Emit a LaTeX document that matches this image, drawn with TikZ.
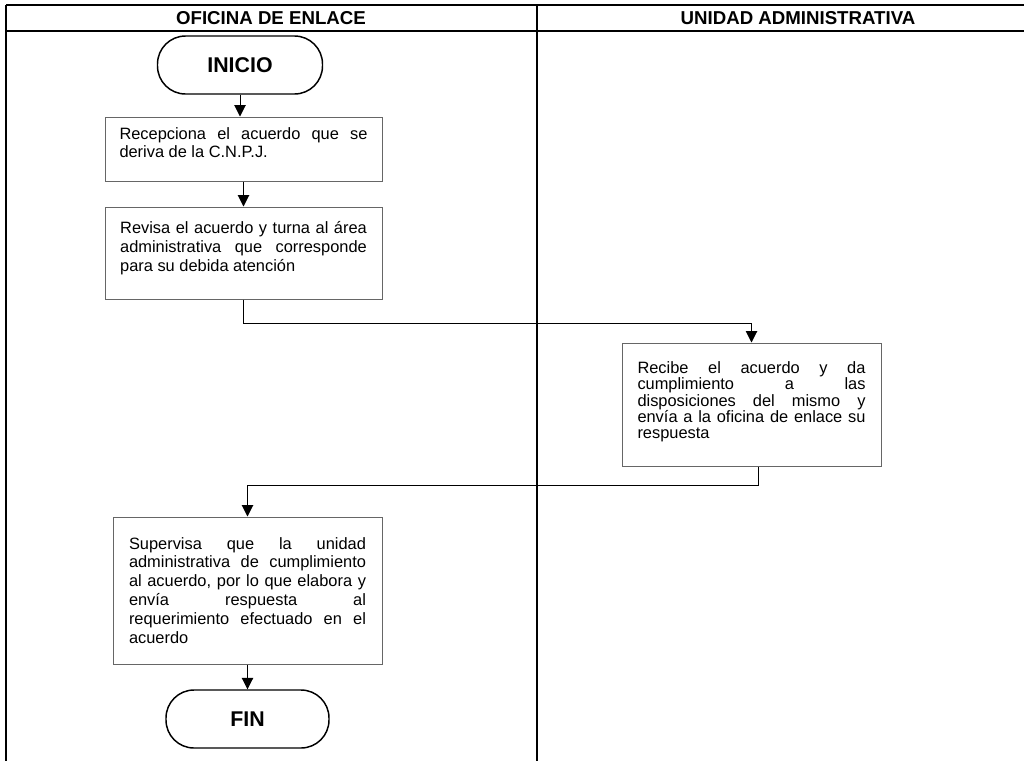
\documentclass[tikz,border=0pt]{standalone}
\usepackage{fontspec}
\setmainfont{Liberation Sans}
\usetikzlibrary{arrows.meta}
\setlength{\parindent}{0pt}
\tolerance=10000
\hbadness=10000
% espacio bajo el texto de una caja
\newcommand{\bajo}[1]{\par\vspace{#1}\hrule height 0pt}

\tikzset{
  proceso/.style={draw=black!60, line width=0.75pt, align=justify, inner xsep=0pt, inner ysep=0pt,
    font=\fontsize{12.3}{14.2}\selectfont},
  terminal/.style={draw, line width=1.1pt, rounded corners=21pt, minimum height=43.5pt,
    font=\fontsize{16}{19}\selectfont\bfseries},
  encabezado/.style={font=\fontsize{14}{16}\selectfont\bfseries},
  flecha/.style={-{Triangle[length=8.5pt,width=8.5pt]}, line width=0.75pt},
  tabla/.style={line width=1.5pt},
}

\begin{document}
\begin{tikzpicture}[x=0.75pt, y=-0.75pt]
  \useasboundingbox (0,0) rectangle (1024,761);
  % tabla y encabezados
  \draw[tabla] (6,5) -- (1024,5);
  \draw[tabla] (6,31) -- (1024,31);
  \draw[tabla] (6,5) -- (6,761);
  \draw[tabla] (537,5) -- (537,761);
  \node[encabezado] (oficina) at (271,18) {OFICINA DE ENLACE};
  \node[encabezado] (unidad) at (798,18) {UNIDAD ADMINISTRATIVA};
  % oficina de enlace
  \node[terminal, minimum width=123.75pt] (inicio) at (240,65) {INICIO};
  \node[proceso, minimum width=207.75pt, minimum height=48pt, text width=186pt] (recepciona) at (243.5,149)
    {Recepciona el acuerdo que se\linebreak deriva de la C.N.P.J.\bajo{9.5pt}};
  \node[proceso, minimum width=207.75pt, minimum height=69pt, text width=185pt] (revisa) at (243.5,253)
    {Revisa el acuerdo y turna al área\linebreak administrativa que corresponde\linebreak para su debida atención\bajo{7pt}};
  % unidad administrativa
  \node[proceso, minimum width=194.25pt, minimum height=92.25pt, text width=171pt,
    font=\fontsize{12.3}{12.3}\selectfont] (recibe) at (751.5,404.5)
    {Recibe el acuerdo y da\linebreak cumplimiento a las\linebreak disposiciones del mismo y\linebreak envía a la oficina de enlace su\linebreak respuesta\bajo{4pt}};
  % respuesta
  \node[proceso, minimum width=201.75pt, minimum height=110.25pt, text width=177.75pt] (supervisa) at (247.5,590.5)
    {Supervisa que la unidad\linebreak administrativa de cumplimiento\linebreak al acuerdo, por lo que elabora y\linebreak envía respuesta al\linebreak requerimiento efectuado en el\linebreak acuerdo};
  \node[terminal, minimum width=122.25pt] (fin) at (247.5,719) {FIN};
  % conectores
  \draw[flecha] (inicio.south) -- (inicio.south |- recepciona.north);
  \draw[flecha] (recepciona.south) -- (revisa.north);
  \draw[flecha] (revisa.south) -- ++(0,24) -| (recibe.north);
  \draw[flecha] ([xshift=5.5pt]recibe.south) -- ++(0,19) -| (supervisa.north);
  \draw[flecha] (supervisa.south) -- (fin.north);
\end{tikzpicture}
\end{document}
